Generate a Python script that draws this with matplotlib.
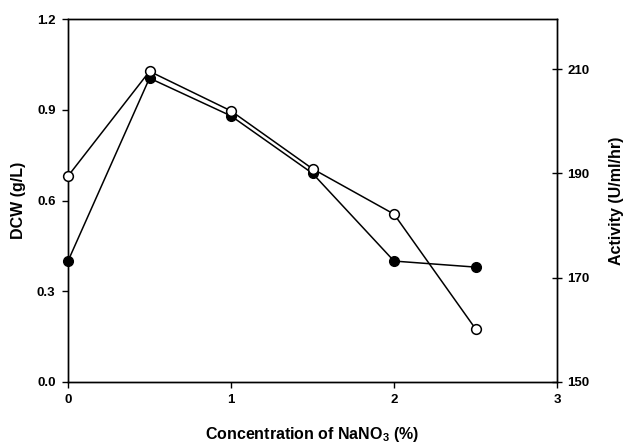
import matplotlib
matplotlib.use("Agg")
import matplotlib.pyplot as plt

plt.rcParams['font.family'] = ['Liberation Sans', 'DejaVu Sans']
plt.rcParams['mathtext.fontset'] = 'custom'
plt.rcParams['mathtext.rm'] = 'Liberation Sans:bold'
plt.rcParams['mathtext.it'] = 'Liberation Sans:bold'
plt.rcParams['mathtext.bf'] = 'Liberation Sans:bold'

conc = [0, 0.5, 1, 1.5, 2, 2.5]
dcw = [0.40, 1.005, 0.88, 0.69, 0.40, 0.38]
activity = [189.5, 209.6, 202.0, 190.9, 182.2, 160.2]

x_ticks = [0, 1, 2, 3]
dcw_ticks = [0.0, 0.3, 0.6, 0.9, 1.2]
act_ticks = [150, 170, 190, 210]

fig = plt.figure(figsize=(6.28, 4.46), dpi=100)
ax = fig.add_axes([0.1083, 0.1435, 0.7787, 0.8135])
ax2 = ax.twinx()

ax.plot(conc, dcw, color='black', lw=1.1, marker='o', markersize=7,
        markerfacecolor='black', markeredgecolor='black', zorder=3, clip_on=False)
ax2.plot(conc, activity, color='black', lw=1.1, marker='o', markersize=7,
         markerfacecolor='white', markeredgecolor='black', markeredgewidth=1.1,
         zorder=3, clip_on=False)

ax.set_xlim(0, 3)
ax.set_ylim(0, 1.2)
ax2.set_ylim(150, 219.6)
ax.set_xticks(x_ticks)
ax.set_xticklabels([str(t) for t in x_ticks])
ax.set_yticks(dcw_ticks)
ax.set_yticklabels([f"{t:.1f}" for t in dcw_ticks])
ax2.set_yticks(act_ticks)
ax2.set_yticklabels([str(t) for t in act_ticks])

for a in (ax, ax2):
    for s in a.spines.values():
        s.set_linewidth(1.0)
ax.tick_params(axis='both', direction='out', length=4, width=1, labelsize=9.5, pad=5)
ax2.tick_params(axis='y', direction='inout', length=7, width=1, labelsize=9.5, pad=4)
for lab in ax.get_xticklabels() + ax.get_yticklabels() + ax2.get_yticklabels():
    lab.set_fontweight('bold')

ax.set_xlabel(r'Concentration of NaNO$_{3}$ (%)', fontsize=11.5, fontweight='bold', labelpad=13)
ax.set_ylabel('DCW (g/L)', fontsize=11.5, fontweight='bold', labelpad=8)
ax2.set_ylabel('Activity (U/ml/hr)', fontsize=11.5, fontweight='bold', labelpad=14)

fig.savefig('out.png', dpi=100)
